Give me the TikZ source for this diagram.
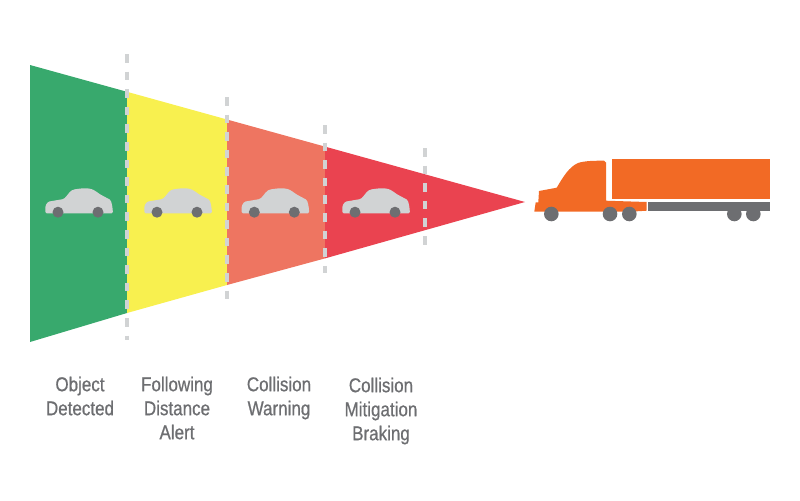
\documentclass[tikz,border=0pt]{standalone}
\usepackage{fontspec}
\setmainfont[FakeStretch=0.85,FakeBold=0.7]{Liberation Sans}
\usepackage{xcolor}
\definecolor{ZoneGreen}{HTML}{38A96D}
\definecolor{ZoneYellow}{HTML}{F8F04F}
\definecolor{ZoneSalmon}{HTML}{EE7561}
\definecolor{ZoneRed}{HTML}{EA4350}
\definecolor{TruckOrange}{HTML}{F26A25}
\definecolor{WheelGray}{HTML}{6D6E71}
\definecolor{CarGray}{HTML}{D1D3D4}
\tikzset{
  zonedash/.style={line width=2.5pt,CarGray,dash pattern=on 6.4pt off 6.8pt},
  zonelabel/.style={align=center,text=WheelGray,font=\fontsize{15}{18}\selectfont,anchor=north}
}
\newcommand{\CarIcon}[1]{% left wheel x
\fill[CarGray,rounded corners=1pt] (#1-12.7,213.3) -- (#1-12.7,206) -- (#1-10,201.7) -- (#1+5.7,199)
  .. controls (#1+10,195) and (#1+12,189.8) .. (#1+18,189.2)
  .. controls (#1+22,188.5) and (#1+27,188) .. (#1+31.7,188.7)
  .. controls (#1+36,189.5) and (#1+40,193) .. (#1+43.3,195)
  -- (#1+52.7,200) -- (#1+54.3,206) -- (#1+55,213.3) -- cycle;
\fill[WheelGray] (#1,212.2) circle (5.5) (#1+40,212.2) circle (5.5);
}

\begin{document}
\begin{tikzpicture}[x=0.75pt,y=-0.75pt]
\useasboundingbox (0,0) rectangle (800,500);
% zones of the cone
\fill[ZoneGreen] (30,65) -- (127,91.8) -- (127,313) -- (30,342) -- cycle;
\fill[ZoneYellow] (127,91.8) -- (227,119.5) -- (227,285) -- (127,313) -- cycle;
\fill[ZoneSalmon] (227,119.5) -- (325,146.6) -- (325,258.4) -- (227,285) -- cycle;
\fill[ZoneRed] (325,146.6) -- (525,202) -- (325,258.4) -- cycle;
% zone limits
\draw[zonedash] (127,54) -- (127,340);
\draw[zonedash] (227,97) -- (227,304);
\draw[zonedash] (325,125) -- (325,273);
\draw[zonedash] (425,148) -- (425,248);
% cars
\CarIcon{58}
\CarIcon{157}
\CarIcon{254.3}
\CarIcon{355}
% truck
\fill[TruckOrange] (611.7,158.7) rectangle (770,198.7);
\fill[WheelGray] (648.3,202) rectangle (770,210.7);
\fill[TruckOrange] (534.3,211.7) -- (535.7,202.3) -- (538.3,202.3) -- (539,191) -- (556.7,187.7)
  .. controls (563,177) and (569,167) .. (578,163) .. controls (585,160.7) and (595,160.7) .. (604,160.7)
  -- (606,162.5) -- (606,200.7) -- (646.7,202) -- (646.7,210.7) -- (630,211.7) -- cycle;
\fill[WheelGray] (551.3,214) circle (7.3) (610,214) circle (7.3) (629.3,214) circle (7.3)
  (734.3,214) circle (7.3) (753.3,214) circle (7.3);
% labels
\node[zonelabel] (objlabel) at (80,372) {Object\\Detected};
\node[zonelabel] (followlabel) at (177,372) {Following\\Distance\\Alert};
\node[zonelabel] (warnlabel) at (279,372) {Collision\\Warning};
\node[zonelabel] (mitlabel) at (381,373) {Collision\\Mitigation\\Braking};
\end{tikzpicture}
\end{document}
